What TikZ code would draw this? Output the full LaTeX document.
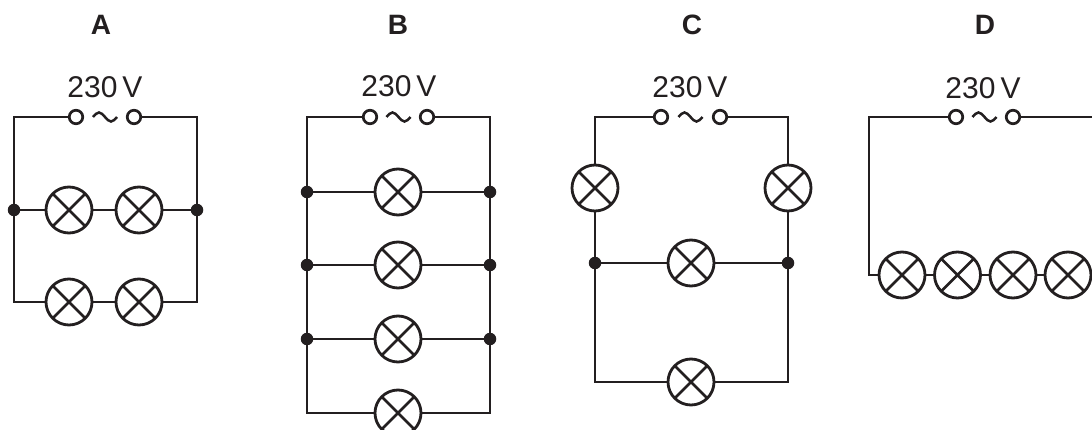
\documentclass[tikz,border=0pt]{standalone}
\usepackage{fontspec}
\setmainfont{Liberation Sans}
\definecolor{ink}{HTML}{231F20}
\tikzset{
  wire/.style={draw=ink, line width=2.8pt},
  lamp/.style={circle, draw=ink, line width=2.8pt, minimum size=46pt, inner sep=0pt, fill=white,
    path picture={\draw[ink, line width=2.5pt] (path picture bounding box.north west)--(path picture bounding box.south east)
      (path picture bounding box.north east)--(path picture bounding box.south west);}},
  term/.style={circle, draw=ink, line width=2.7pt, minimum size=13.5pt, inner sep=0pt, fill=white},
  junc/.style={circle, fill=ink, minimum size=12.5pt, inner sep=0pt},
  title/.style={text=ink, font=\fontsize{28}{30}\selectfont\bfseries, inner sep=0pt},
  volt/.style={text=ink, font=\fontsize{30}{32}\selectfont, inner sep=0pt},
  tilde/.style={draw=ink, line width=2.5pt}
}
\newcommand{\acsym}[2]{\draw[tilde] (#1-12,#2) sin (#1-6,#2-4.5) cos (#1,#2) sin (#1+6,#2+4.5) cos (#1+12,#2);}
\begin{document}
\begin{tikzpicture}[x=1pt,y=-1pt]
\useasboundingbox (0,0) rectangle (1092,430);
\clip (0,0) rectangle (1092,430);
\fill[white] (0,0) rectangle (1092,430);

% ---------------- A ----------------
\node[title] (tA) at (101,25) {A};
\node[volt] (vA) at (105,87) {230\kern5pt V};
\coordinate (a_tl) at (14,117); \coordinate (a_tr) at (197,117);
\coordinate (a_bl) at (14,302); \coordinate (a_br) at (197,302);
\node[term] (a_t1) at (76,117) {}; \node[term] (a_t2) at (134,117) {};
\node[junc] (a_d1) at (14,210) {}; \node[junc] (a_d2) at (197,210) {};
\node[lamp] (a_l1) at (69,210) {}; \node[lamp] (a_l2) at (139,210) {};
\node[lamp] (a_l3) at (69,302) {}; \node[lamp] (a_l4) at (139,302) {};
\draw[wire] (a_t1) -- (a_tl) -- (a_bl) -- (a_l3);
\draw[wire] (a_l3) -- (a_l4);
\draw[wire] (a_l4) -- (a_br) -- (a_tr) -- (a_t2);
\draw[wire] (a_d1) -- (a_l1); \draw[wire] (a_l1) -- (a_l2); \draw[wire] (a_l2) -- (a_d2);
\acsym{105}{117}

% ---------------- B ----------------
\node[title] (tB) at (398,25) {B};
\node[volt] (vB) at (399,86) {230\kern5pt V};
\coordinate (b_tl) at (307,117); \coordinate (b_tr) at (490,117);
\coordinate (b_bl) at (307,413); \coordinate (b_br) at (490,413);
\node[term] (b_t1) at (370,117) {}; \node[term] (b_t2) at (427,117) {};
\node[junc] (b_d1) at (307,192) {}; \node[junc] (b_d2) at (490,192) {};
\node[junc] (b_d3) at (307,265) {}; \node[junc] (b_d4) at (490,265) {};
\node[junc] (b_d5) at (307,339) {}; \node[junc] (b_d6) at (490,339) {};
\node[lamp] (b_l1) at (398,192) {};
\node[lamp] (b_l2) at (398,265) {};
\node[lamp] (b_l3) at (398,339) {};
\node[lamp] (b_l4) at (398,413) {};
\draw[wire] (b_t1) -- (b_tl) -- (b_bl) -- (b_l4);
\draw[wire] (b_l4) -- (b_br) -- (b_tr) -- (b_t2);
\draw[wire] (b_d1) -- (b_l1); \draw[wire] (b_l1) -- (b_d2);
\draw[wire] (b_d3) -- (b_l2); \draw[wire] (b_l2) -- (b_d4);
\draw[wire] (b_d5) -- (b_l3); \draw[wire] (b_l3) -- (b_d6);
\acsym{398.5}{117}

% ---------------- C ----------------
\node[title] (tC) at (692,25) {C};
\node[volt] (vC) at (690,87) {230\kern5pt V};
\coordinate (c_tl) at (595,117); \coordinate (c_tr) at (788,117);
\coordinate (c_bl) at (595,382); \coordinate (c_br) at (788,382);
\node[term] (c_t1) at (661,117) {}; \node[term] (c_t2) at (720,117) {};
\node[lamp] (c_l1) at (595,188) {}; \node[lamp] (c_l2) at (788,188) {};
\node[junc] (c_d1) at (595,263) {}; \node[junc] (c_d2) at (788,263) {};
\node[lamp] (c_l3) at (691,263) {};
\node[lamp] (c_l4) at (691,382) {};
\draw[wire] (c_t1) -- (c_tl) -- (c_l1);
\draw[wire] (c_t2) -- (c_tr) -- (c_l2);
\draw[wire] (c_l1) -- (c_d1); \draw[wire] (c_l2) -- (c_d2);
\draw[wire] (c_d1) -- (c_l3); \draw[wire] (c_l3) -- (c_d2);
\draw[wire] (c_d1) -- (c_bl) -- (c_l4);
\draw[wire] (c_d2) -- (c_br) -- (c_l4);
\acsym{690.5}{117}

% ---------------- D ----------------
\node[title] (tD) at (985,25) {D};
\node[volt] (vD) at (983,88) {230\kern5pt V};
\coordinate (d_tl) at (869,117); \coordinate (d_tr) at (1118,117);
\coordinate (d_bl) at (869,275); \coordinate (d_br) at (1118,275);
\node[term] (d_t1) at (956,117) {}; \node[term] (d_t2) at (1013,117) {};
\node[lamp] (d_l1) at (902,275) {};
\node[lamp] (d_l2) at (957.5,275) {};
\node[lamp] (d_l3) at (1013,275) {};
\node[lamp] (d_l4) at (1068,275) {};
\draw[wire] (d_t1) -- (d_tl) -- (d_bl) -- (d_l1);
\draw[wire] (d_l1) -- (d_l2); \draw[wire] (d_l2) -- (d_l3); \draw[wire] (d_l3) -- (d_l4);
\draw[wire] (d_l4) -- (d_br) -- (d_tr) -- (d_t2);
\acsym{984.5}{117}
\end{tikzpicture}
\end{document}
